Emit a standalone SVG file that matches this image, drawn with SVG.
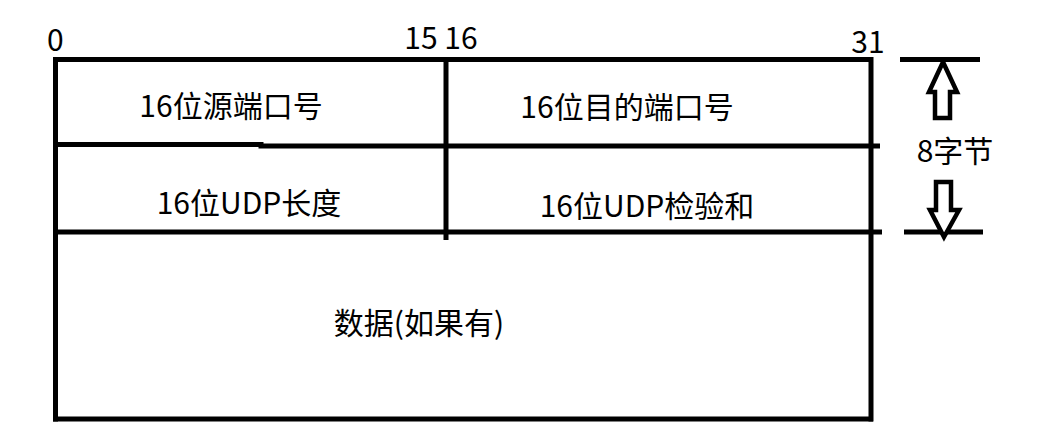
<svg xmlns="http://www.w3.org/2000/svg" width="1046" height="437" viewBox="0 0 1046 437">
  <style>
    .ln { stroke: #000; stroke-width: 5; fill: none; stroke-linecap: butt; }
    .ar { stroke: #000; stroke-width: 4.5; fill: #fff; stroke-linejoin: miter; }
    .t { font-family: "Noto Sans CJK SC", "Noto Sans", sans-serif; font-size: 30px; fill: #000; }
    .m { text-anchor: middle; }
  </style>
  <rect width="1046" height="437" fill="#fff"/>
  <g id="frame">
    <line class="ln" x1="53" y1="59.5" x2="873" y2="59.5"/>
    <line class="ln" x1="55.5" y1="57" x2="55.5" y2="421.5"/>
    <line class="ln" x1="871" y1="57" x2="871" y2="421.5"/>
    <line class="ln" x1="53" y1="419" x2="873" y2="419"/>
    <line class="ln" x1="446" y1="59" x2="446" y2="240"/>
    <polyline class="ln" points="53,144.5 261,144.5 261,146 880,146"/>
    <line class="ln" x1="53" y1="232" x2="882" y2="232"/>
  </g>
  <g id="scale">
    <text class="t" x="47" y="51">0</text>
    <text class="t" x="441" y="49" text-anchor="middle">15 16</text>
    <text class="t" x="868" y="53" text-anchor="middle">31</text>
  </g>
  <g id="src-port"><text class="t m" x="231" y="117">16位源端口号</text></g>
  <g id="dst-port"><text class="t m" x="627" y="118">16位目的端口号</text></g>
  <g id="udp-len"><text class="t m" x="249" y="214">16位UDP长度</text></g>
  <g id="udp-sum"><text class="t m" x="647" y="217">16位UDP检验和</text></g>
  <g id="data"><text class="t m" x="419" y="334">数据(如果有)</text></g>
  <g id="size">
    <line class="ln" x1="900" y1="59.5" x2="980" y2="59.5"/>
    <line class="ln" x1="904" y1="232" x2="983" y2="232"/>
    <text class="t m" x="955" y="162">8字节</text>
  </g>
  <g id="connectors">
    <polygon class="ar" points="943,62 957,92 950,92 950,118 935,118 935,92 929,92"/>
    <polygon class="ar" points="944,237 959,210 951,210 951,182 936,182 936,210 930,210"/>
  </g>
</svg>
